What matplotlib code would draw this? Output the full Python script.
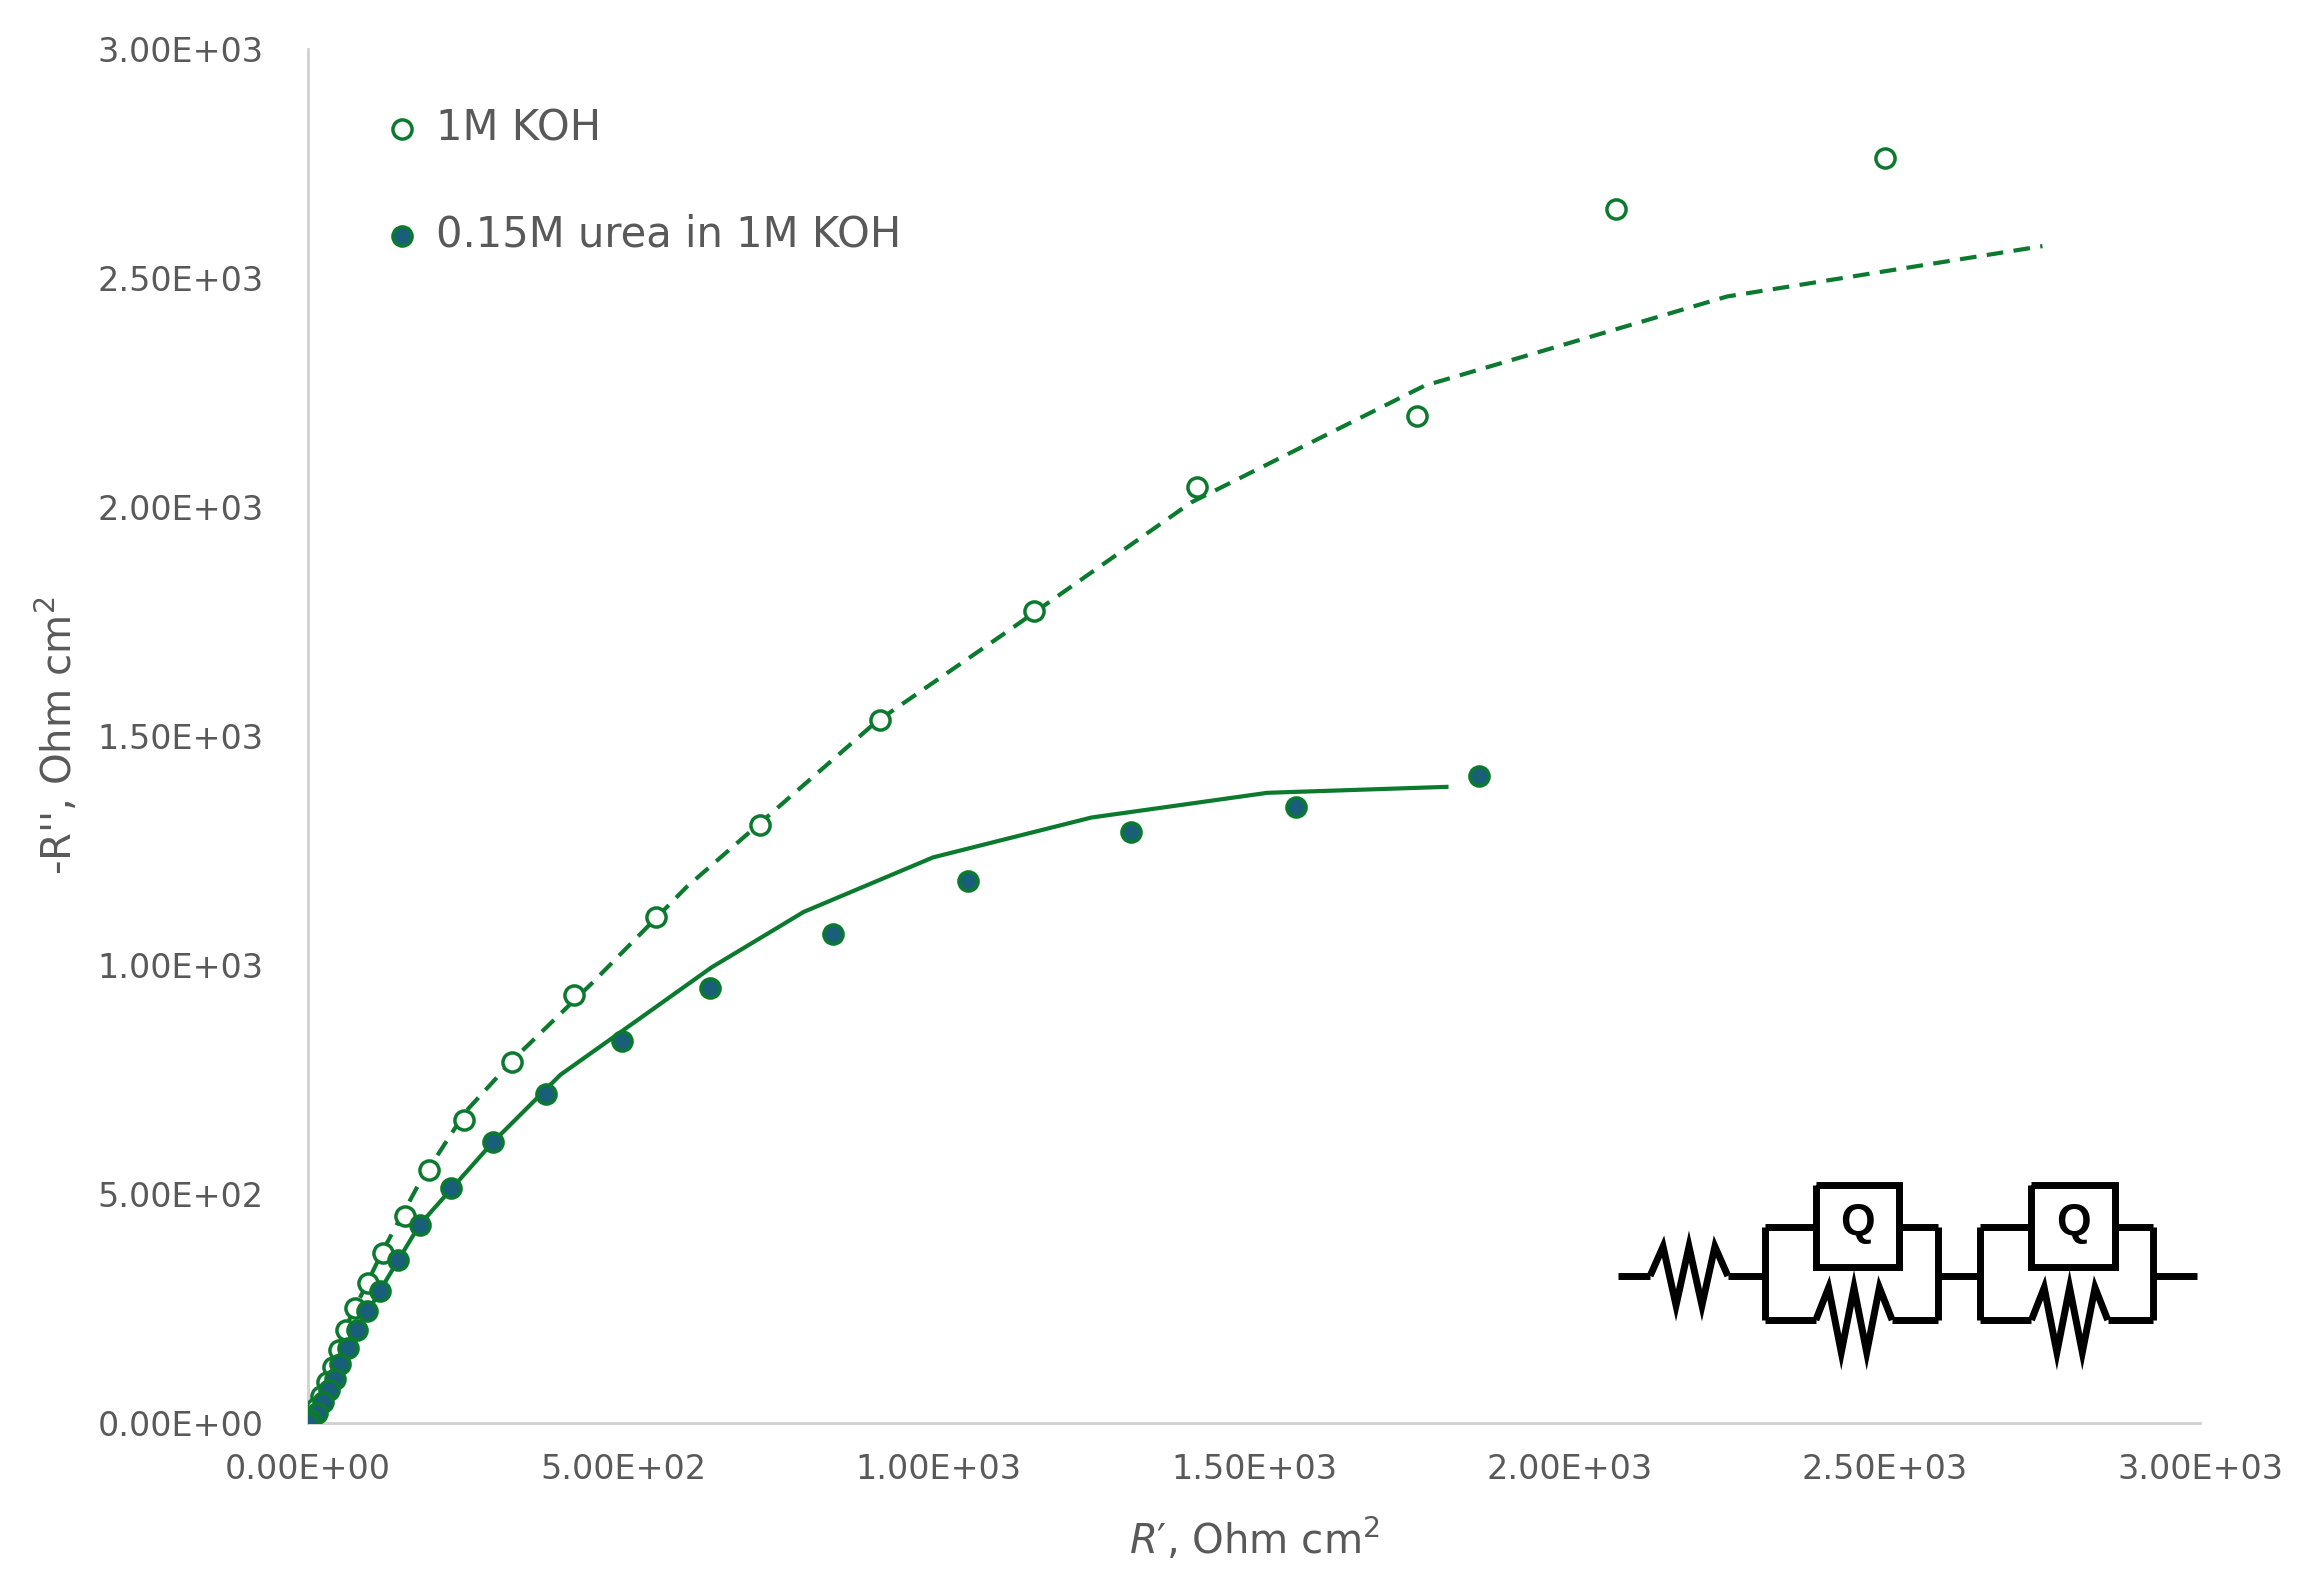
import matplotlib
matplotlib.use("Agg")
import matplotlib.pyplot as plt
import numpy as np

koh_x = [2500,2074,1758,1409,1151,907,716,551,421,323,247,191,153,119,95,74,60,49,40,30,21,12,5,0]
koh_y = [2762,2650,2198,2044,1774,1534,1306,1104,934,789,661,552,452,372,305,250,202,160,122,90,58,32,10,0]
urea_x = [1856,1567,1305,1047,833,637,498,377,293,226,177,142,114,93,77,63,51,42,33,23,14,5,0]
urea_y = [1412,1344,1290,1184,1068,950,834,719,613,513,433,356,289,244,202,164,128,96,71,45,22,6,0]
fit_koh_x = [0,60,120,175,250,330,450,600,750,900,1100,1400,1770,2250,2750]
fit_koh_y = [0,210,380,520,680,800,960,1170,1350,1530,1720,2010,2265,2460,2570]
fit_urea_x = [0,63,114,177,293,400,535,640,786,991,1242,1521,1805]
fit_urea_y = [0,164,289,433,613,760,892,995,1116,1235,1322,1376,1389]

green = "#0b7a2e"
teal = "#1a5f7a"
grey = "#595959"

fig = plt.figure(figsize=(22.99, 15.88), dpi=100)
ax = fig.add_axes([0.134, 0.104, 0.823, 0.865])
ax.plot(fit_koh_x, fit_koh_y, color=green, lw=3, ls=(0, (4, 2.5)), zorder=2)
ax.plot(fit_urea_x, fit_urea_y, color=green, lw=3, zorder=2)
ax.scatter(koh_x, koh_y, s=190, facecolors="white", edgecolors=green, linewidths=2.5, zorder=3, label="1M KOH")
ax.scatter(urea_x, urea_y, s=190, facecolors=teal, edgecolors=green, linewidths=2.5, zorder=4, label="0.15M urea in 1M KOH")

ax.set_xlim(0, 3000)
ax.set_ylim(0, 3000)
ticks = [0, 500, 1000, 1500, 2000, 2500, 3000]
ax.set_xticks(ticks)
ax.set_yticks(ticks)
ax.set_xticklabels([f"{t:.2E}" for t in ticks])
ax.set_yticklabels([f"{t:.2E}" for t in ticks])
ax.tick_params(length=0, labelsize=24, colors=grey)
ax.tick_params(axis="y", pad=32)
ax.tick_params(axis="x", pad=22)
for s in ["top", "right"]:
    ax.spines[s].set_visible(False)
for s in ["left", "bottom"]:
    ax.spines[s].set_color("#d0d0d0")
    ax.spines[s].set_linewidth(2)
ax.set_xlabel("$R$\u2032, Ohm cm$^2$", fontsize=29, color=grey, labelpad=22)
ax.set_ylabel("-R'', Ohm cm$^2$", fontsize=29, color=grey, labelpad=12)
leg = ax.legend(loc="upper left", bbox_to_anchor=(0.008, 0.985), frameon=False, fontsize=30,
                labelspacing=1.55, handletextpad=-0.2, markerscale=1.0)
for t in leg.get_texts():
    t.set_color(grey)

# equivalent circuit drawing
def px(x):
    return (x - 210) / 0.43
def py(y):
    return (968 - y) / 0.3117
lw = 5
k = "black"
def line(xs, ys):
    ax.plot([px(v) for v in xs], [py(v) for v in ys], color=k, lw=lw, clip_on=False,
            solid_joinstyle="miter", solid_capstyle="butt", zorder=5)
def zig(x0, x1, yc, amp):
    n = 7
    xs = np.linspace(x0, x1, n)
    ys = [yc] + [yc - amp if i % 2 else yc + amp for i in range(1, n - 1)] + [yc]
    line(list(xs), ys)
line([1103, 1125], [868, 868])
zig(1125, 1178, 868, 20)
line([1178, 1203], [868, 868])
for bx in [1203, 1350]:
    line([bx, bx], [835, 898])
    line([bx + 118, bx + 118], [835, 898])
    line([bx, bx + 35], [835, 835])
    line([bx + 92, bx + 118], [835, 835])
    line([bx + 35, bx + 92, bx + 92, bx + 35, bx + 35], [806, 806, 862, 862, 806])
    ax.text(px(bx + 63.5), py(832), "Q", fontsize=32, fontweight="bold", ha="center", va="center",
            family="Liberation Sans", zorder=6)
    line([bx, bx + 35], [898, 898])
    zig(bx + 35, bx + 87, 898, 22)
    line([bx + 87, bx + 118], [898, 898])
line([1321, 1350], [868, 868])
line([1468, 1498], [868, 868])

fig.savefig("out.png", dpi=100)
